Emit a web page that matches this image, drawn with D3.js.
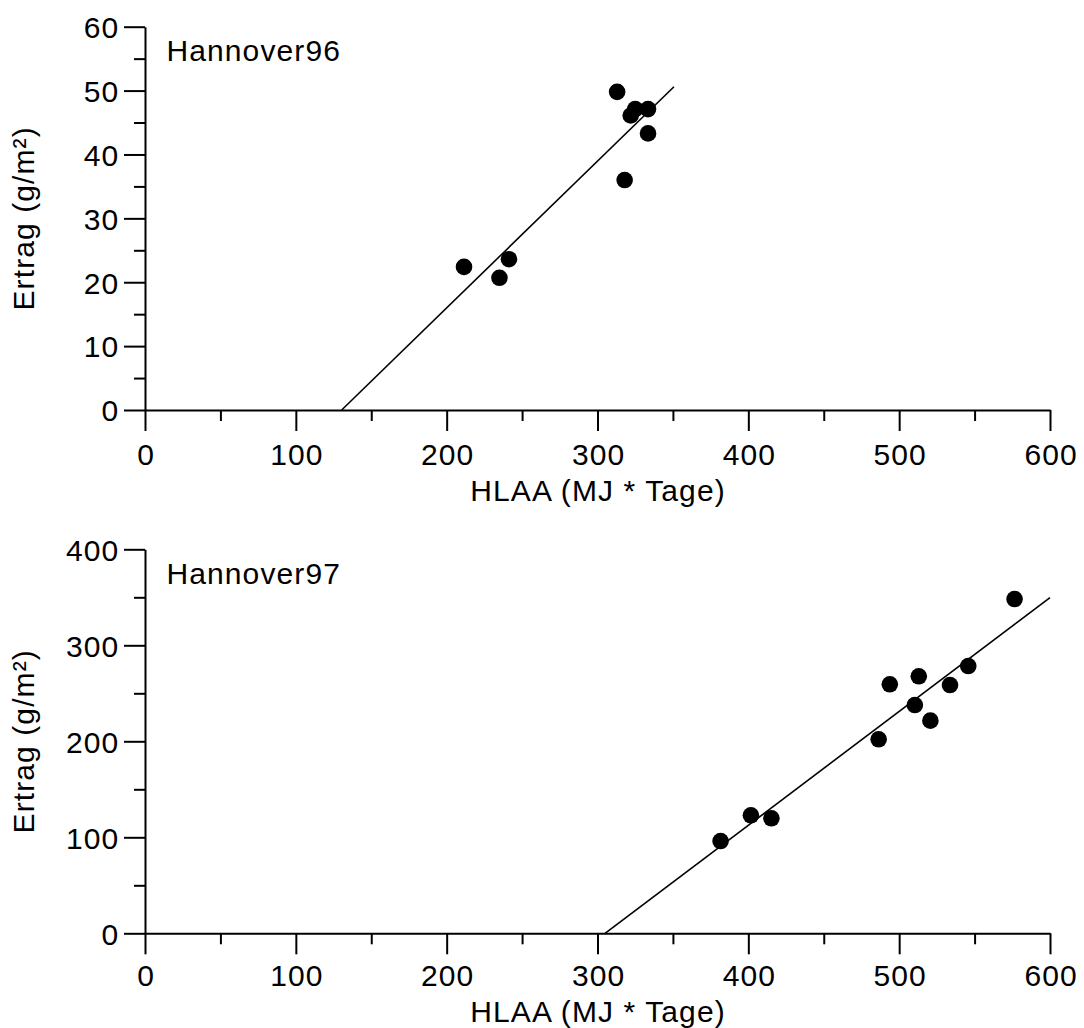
<!DOCTYPE html>
<html>
<head>
<meta charset="utf-8">
<script src="https://cdn.jsdelivr.net/npm/d3@7"></script>
<style>
  html, body { margin: 0; padding: 0; background: #fff; }
  svg text { font-family: "Liberation Sans", Arial, Helvetica, sans-serif; fill: #000; }
</style>
</head>
<body>
<svg id="chart" width="1084" height="1028"></svg>
<script>
// ---- Data ----
const xTicks = [0, 100, 200, 300, 400, 500, 600];
const xMinorTicks = [50, 150, 250, 350, 450, 550];

const label96 = "Hannover96";
const x96 = [313, 325, 322, 333.5, 333.5, 318, 211.5, 235, 241.3];
const y96 = [49.8, 47.1, 46.1, 47.1, 43.3, 36.0, 22.4, 20.7, 23.6];
const fitX96 = [130.4, 350.7];
const fitY96 = [0, 50.6];
const yTicks96 = [0, 10, 20, 30, 40, 50, 60];
const yMinor96 = [5, 15, 25, 35, 45, 55];

const label97 = "Hannover97";
const x97 = [576.5, 545.8, 513.0, 493.8, 533.7, 510.4, 520.7, 486.4, 401.7, 415.3, 381.6];
const y97 = [348.2, 278.4, 267.7, 259.4, 258.6, 237.8, 221.5, 202.1, 122.9, 119.8, 96.1];
const fitX97 = [305, 600];
const fitY97 = [0, 349.6];
const yTicks97 = [0, 100, 200, 300, 400];
const yMinor97 = [50, 150, 250, 350];

const xTitle = "HLAA (MJ * Tage)";
const yTitle = "Ertrag (g/m²)";

// ---- Drawing ----
const svg = d3.select("#chart");
const FS = 30;
const LS = 1.1;

function panel(cfg) {
  const x = d3.scaleLinear().domain([0, 600]).range([145, 1050]);
  const y = d3.scaleLinear().domain([0, cfg.yMax]).range([cfg.bottom, cfg.top]);
  const g = svg.append("g");

  // minor ticks
  g.append("g").attr("transform", `translate(0,${cfg.bottom})`)
    .call(d3.axisBottom(x).tickValues(xMinorTicks).tickSize(11).tickSizeOuter(0).tickFormat(""))
    .call(s => s.select(".domain").remove());
  g.append("g").attr("transform", `translate(145,0)`)
    .call(d3.axisLeft(y).tickValues(cfg.yMinor).tickSize(11).tickSizeOuter(0).tickFormat(""))
    .call(s => s.select(".domain").remove());

  // major axes
  const xa = g.append("g").attr("transform", `translate(0,${cfg.bottom})`)
    .call(d3.axisBottom(x).tickValues(xTicks).tickSize(21).tickSizeOuter(0).tickFormat(d3.format("d")));
  xa.selectAll("text").attr("font-size", FS).attr("letter-spacing", LS)
    .attr("dy", 0).attr("y", cfg.labelOff).attr("dx", LS / 2);
  const ya = g.append("g").attr("transform", `translate(145,0)`)
    .call(d3.axisLeft(y).tickValues(cfg.yTicks).tickSize(21).tickSizeOuter(0).tickPadding(4.6).tickFormat(d3.format("d")));
  ya.selectAll("text").attr("font-size", FS).attr("letter-spacing", LS).attr("dy", "0.36em");

  g.selectAll(".domain, .tick line").attr("stroke", "#000").attr("stroke-width", 2);
  g.selectAll("text").attr("font-family", '"Liberation Sans", Arial, sans-serif').attr("fill", "#000");

  // regression line
  const line = d3.line().x(d => x(d[0])).y(d => y(d[1]));
  g.append("path")
    .datum(cfg.fitX.map((v, i) => [v, cfg.fitY[i]]))
    .attr("d", line).attr("fill", "none").attr("stroke", "#000").attr("stroke-width", 1.6);

  // points
  g.selectAll("circle.pt").data(cfg.xs.map((v, i) => [v, cfg.ys[i]])).enter()
    .append("circle").attr("class", "pt")
    .attr("cx", d => x(d[0])).attr("cy", d => y(d[1])).attr("r", 8.3).attr("fill", "#000");

  // panel label
  g.append("text").attr("x", 166.5).attr("y", cfg.top + 34.5)
    .attr("font-size", FS).attr("letter-spacing", LS).text(cfg.label);

  // axis titles
  g.append("text").attr("x", 597.5 + LS / 2).attr("y", cfg.bottom + cfg.titleOff)
    .attr("text-anchor", "middle").attr("font-size", FS).attr("letter-spacing", LS).text(xTitle);
  g.append("text")
    .attr("transform", `translate(33.5,${(cfg.top + cfg.bottom) / 2}) rotate(-90)`)
    .attr("text-anchor", "middle").attr("font-size", FS).attr("letter-spacing", LS).text(yTitle);
}

panel({ yMax: 60, top: 26.7, bottom: 410, yTicks: yTicks96, yMinor: yMinor96,
        xs: x96, ys: y96, fitX: fitX96, fitY: fitY96, label: label96, labelOff: 55, titleOff: 91 });
panel({ yMax: 400, top: 549.3, bottom: 933.3, yTicks: yTicks97, yMinor: yMinor97,
        xs: x97, ys: y97, fitX: fitX97, fitY: fitY97, label: label97, labelOff: 52.7, titleOff: 88.4 });
</script>
</body>
</html>
